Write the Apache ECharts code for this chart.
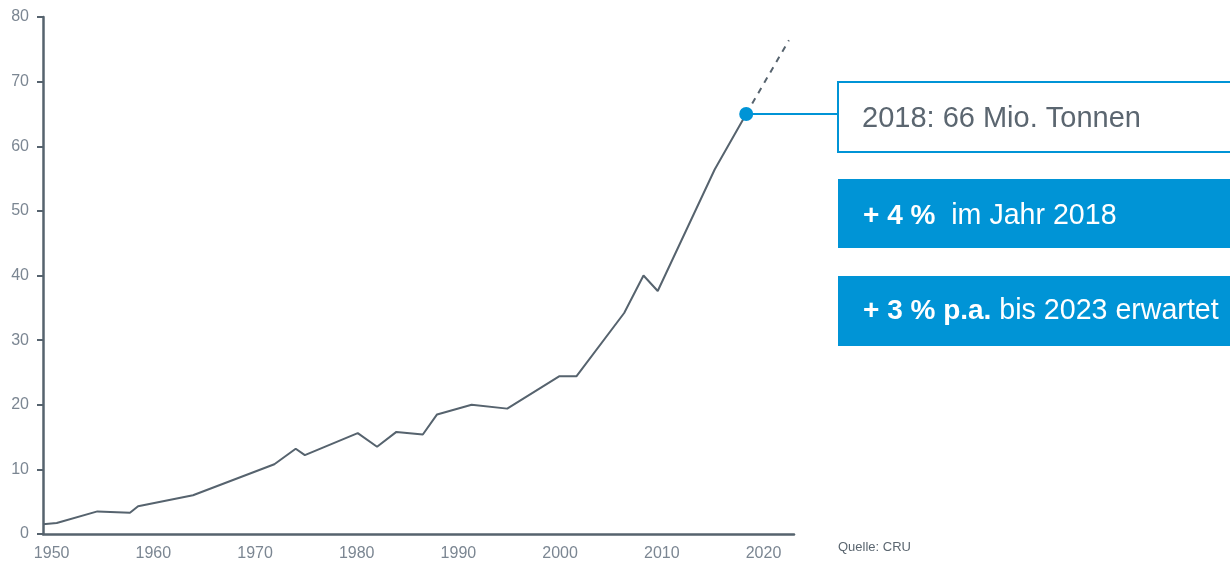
<!DOCTYPE html>
<html>
<head>
<meta charset="utf-8">
<title>Produktion</title>
<script src="https://cdn.jsdelivr.net/npm/echarts@6/dist/echarts.min.js"></script>
<style>
  html, body { margin: 0; padding: 0; background: #fff; }
  #main { width: 1230px; height: 562px; }
</style>
</head>
<body>
<div id="main"></div>
<script>
// Werte (Mio. Tonnen)
const years = [1949.15, 1950.5, 1954.5, 1957.7, 1958.5, 1963.9, 1971.9, 1974.0, 1974.9, 1980.1, 1982.0, 1983.9, 1986.5, 1987.9, 1991.3, 1994.8, 1999.9, 2001.6, 2006.3, 2008.2, 2009.6, 2015.2, 2018.3]
const values = [1.5, 1.7, 3.5, 3.3, 4.3, 6.0, 10.8, 13.2, 12.2, 15.6, 13.5, 15.8, 15.4, 18.5, 20.0, 19.4, 24.4, 24.4, 34.2, 40.0, 37.6, 56.4, 65.0]
// Prognose bis 2023 (gestrichelt)
const forecastYears = [2018.3, 2022.5]
const forecastValues = [65.0, 76.4]
// hervorgehobener Punkt
const highlightYear = [2018.3]
const highlightValue = [65.0]
// Achsenbeschriftung
const xTicks = [1950, 1960, 1970, 1980, 1990, 2000, 2010, 2020]
const yMin = 0
const yMax = 80
const yStep = 10
// Textkästen rechts
const boxTitle = '2018: 66 Mio. Tonnen'
const boxBold = ['+ 4 %', '+ 3 % p.a.']
const boxText = ['  im Jahr 2018', ' bis 2023 erwartet']
const sourceText = 'Quelle: CRU'

const zip = (xs, ys) => xs.map((x, i) => [x, ys[i]])

const blue = '#0094d6'
const dark = '#56636e'
const grey = '#7b8692'

const myChart = echarts.init(document.getElementById('main'))

const option = {
  animation: false,
  textStyle: { fontFamily: 'Liberation Sans' },
  grid: { left: 43, right: 436, top: 17, bottom: 27 },
  xAxis: {
    type: 'value',
    min: 1949.15,
    max: 2023,
    axisLine: { lineStyle: { color: dark, width: 2.5 } },
    axisTick: { show: false },
    splitLine: { show: false },
    axisLabel: {
      customValues: xTicks,
      formatter: v => String(v),
      color: grey,
      fontSize: 16,
      margin: 12
    }
  },
  yAxis: {
    type: 'value',
    min: yMin,
    max: yMax,
    interval: yStep,
    axisLine: { show: true, lineStyle: { color: dark, width: 2.5 } },
    axisTick: { show: true, length: 6, lineStyle: { color: dark, width: 2 } },
    splitLine: { show: false },
    axisLabel: { color: grey, fontSize: 16, margin: 14 }
  },
  series: [
    {
      name: 'Produktion',
      type: 'line',
      data: zip(years, values),
      symbol: 'none',
      lineStyle: { color: dark, width: 2 }
    },
    {
      name: 'Prognose',
      type: 'line',
      data: zip(forecastYears, forecastValues),
      symbol: 'none',
      lineStyle: { color: dark, width: 2, type: [6, 6] }
    },
    {
      name: '2018',
      type: 'scatter',
      data: zip(highlightYear, highlightValue),
      symbolSize: 14,
      itemStyle: { color: blue, opacity: 1 },
      z: 5
    }
  ]
}
myChart.setOption(option)

// Verbindungslinie vom Punkt zum Kasten, plus Kästen
const pt = myChart.convertToPixel({ gridIndex: 0 }, [highlightYear[0], highlightValue[0]])
const boxX = 838
const richStyle = {
  b: { fontFamily: 'Liberation Sans', fontSize: 28, fontWeight: 'bold', fill: '#fff', color: '#fff' },
  n: { fontFamily: 'Liberation Sans', fontSize: 28.6, fill: '#fff', color: '#fff' }
}
myChart.setOption({
  graphic: [
    {
      type: 'line',
      shape: { x1: pt[0], y1: pt[1], x2: boxX, y2: pt[1] },
      style: { stroke: blue, lineWidth: 2 },
      z: 1
    },
    {
      type: 'rect',
      shape: { x: boxX, y: 82, width: 420, height: 70 },
      style: { fill: '#fff', stroke: blue, lineWidth: 2 }
    },
    {
      type: 'text',
      x: 862,
      y: 119,
      style: { text: boxTitle, font: '29px "Liberation Sans"', fill: '#5b6670', verticalAlign: 'middle' }
    },
    {
      type: 'rect',
      shape: { x: boxX, y: 179, width: 420, height: 69 },
      style: { fill: blue }
    },
    {
      type: 'text',
      x: 863,
      y: 216,
      style: {
        text: '{b|' + boxBold[0] + '}{n|' + boxText[0] + '}',
        verticalAlign: 'middle',
        rich: richStyle
      }
    },
    {
      type: 'rect',
      shape: { x: boxX, y: 276, width: 420, height: 70 },
      style: { fill: blue }
    },
    {
      type: 'text',
      x: 863,
      y: 311,
      style: {
        text: '{b|' + boxBold[1] + '}{n|' + boxText[1] + '}',
        verticalAlign: 'middle',
        rich: richStyle
      }
    },
    {
      type: 'text',
      x: 838,
      y: 547,
      style: { text: sourceText, font: '13px "Liberation Sans"', fill: '#5b6670', verticalAlign: 'middle' }
    }
  ]
})
</script>
</body>
</html>
